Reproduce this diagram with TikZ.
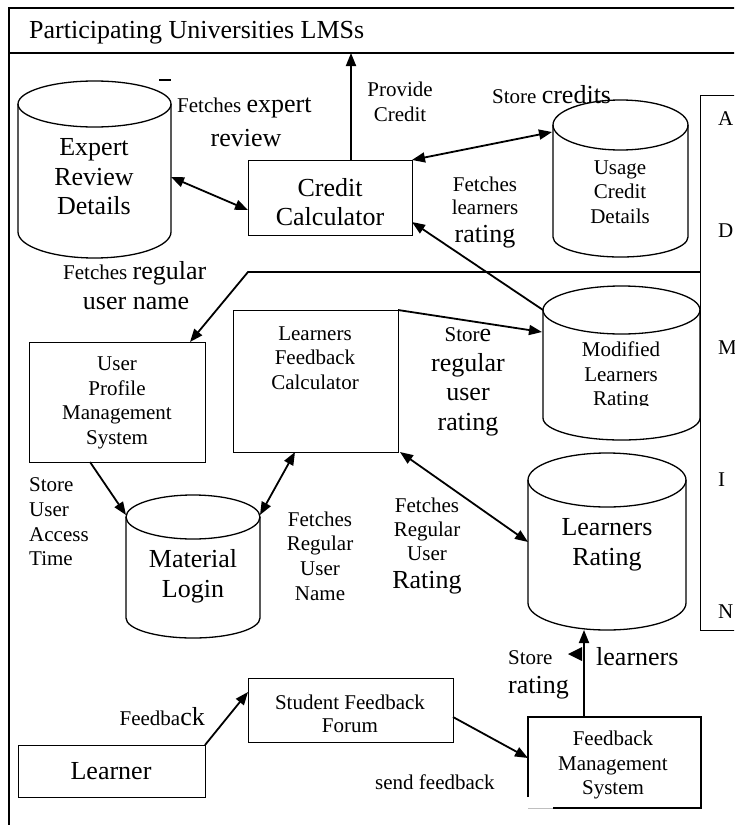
\documentclass[tikz,border=0pt]{standalone}
\usepackage{fontspec}
\setmainfont{Liberation Serif}
\usetikzlibrary{arrows.meta}
\newcommand\fsm{\fontsize{21}{24.6}\selectfont}
\newcommand\flg{\fontsize{26}{29.6}\selectfont}
% cylinder: name, xl, xr, y top centre, ry top, y bottom centre, ry bottom
\newcommand\dbcyl[7]{%
  \draw[shp] ({(#2+#3)/2},#4) ellipse [x radius={(#3-#2)/2}, y radius=#5];
  \draw[shp] (#2,#4) -- (#2,#6) arc[start angle=180, end angle=0, x radius={(#3-#2)/2}, y radius=#7] -- (#3,#4);
  \node[inner sep=0pt, minimum width={(#3-#2)*1pt}, minimum height={(#6+#7-#4+#5)*1pt}, anchor=north west] (#1) at (#2,#4-#5) {};
}
\begin{document}
\begin{tikzpicture}[x=1pt,y=-1pt,
  shp/.style={line width=1.3pt},
  box/.style={draw, line width=1.3pt, rectangle, inner sep=0pt, anchor=north west},
  arr/.style={line width=1.8pt, -{Triangle[length=13pt,width=10pt]}},
  biarr/.style={line width=1.8pt, {Triangle[length=13pt,width=10pt]}-{Triangle[length=13pt,width=10pt]}},
  txt/.style={inner sep=0pt, align=center, font=\fsm},
  big/.style={inner sep=0pt, align=center, font=\flg}]
\useasboundingbox (0,0) rectangle (734,825);
\fill[white] (0,0) rectangle (734,825);
\clip (0,0) rectangle (734,825);

% outer frame and title
\node[box, line width=1.5pt, minimum width=760pt, minimum height=840pt] (frame) at (8,7) {};
\draw[line width=1.5pt] (8,53) -- (770,53);
\node[inner sep=0pt, anchor=west, font=\flg] (title) at (29,33) {Participating Universities LMSs};

% right box
\node[box, minimum width=80pt, minimum height=535pt] (rb) at (700,95) {};
\node[txt, anchor=west] (la) at (718,119) {A};
\node[txt, anchor=west] (ld) at (718,231) {D};
\node[txt, anchor=west] (lm) at (718,348) {M};
\node[txt, anchor=west] (li) at (718,480) {I};
\node[txt, anchor=west] (ln) at (718,612) {N};

% cylinders
\dbcyl{exp}{18}{171}{104}{23}{232}{26}
\draw[shp] (159,80) -- (171,80);
\node[big] (expt) at (94,177) {Expert\\Review\\Details};

\dbcyl{usage}{553}{688}{125}{25}{237}{20}
\node[txt] (usaget) at (620,192) {Usage\\Credit\\Details};

\dbcyl{mod}{543}{700}{310}{24}{418}{22}
\begin{scope}
  \clip (545,336) rectangle (698,405);
  \node[txt] (modt) at (621,376) {Modified\\Learners\\Rating};
\end{scope}

\dbcyl{lr}{528}{686}{480}{27}{603}{27}
\node[big] (lrt) at (607,545) {Learners\\Rating};

\dbcyl{ml}{126}{260}{517}{22}{618}{20}
\node[big] (mlt) at (193,576) {Material\\Login};

% boxes
\node[box, minimum width=164pt, minimum height=75pt] (cc) at (248,160) {};
\node[big] (cct) at (330,202) {Credit\\Calculator};

\node[box, minimum width=176pt, minimum height=120pt] (up) at (29,342) {};
\node[txt] (upt) at (117,403) {User\\Profile\\Management\\System};

\node[box, minimum width=165pt, minimum height=142pt] (lfc) at (233,310) {};
\node[txt] (lfct) at (315,358) {Learners\\Feedback\\Calculator};

\node[box, minimum width=205pt, minimum height=64pt] (sff) at (248,678) {};
\begin{scope}
  \clip (250,680) rectangle (451,732);
  \node[txt, font=\fontsize{21}{23.5}\selectfont] (sfft) at (350,714) {Student Feedback\\Forum};
\end{scope}

\node[inner sep=0pt, minimum width=173pt, minimum height=91pt, anchor=north west] (fms) at (528,717) {};
\draw[shp] (528,797) -- (528,717) -- (701,717) -- (701,808) -- (553,808);
\draw[black!25, line width=1pt] (528,808) -- (553,808);
\node[txt] (fmst) at (613,765) {Feedback\\Management\\System};

\node[box, minimum width=187pt, minimum height=52pt] (ln) at (18,745) {};
\node[big] (lnt) at (111,771) {Learner};

% attachment points
\coordinate (ccN) at (351,160);   \coordinate (divA) at (351,53);
\coordinate (expE) at (171,177);  \coordinate (ccW) at (248,210);
\coordinate (ccNE) at (412,160);  \coordinate (usW) at (552,132);
\coordinate (modNW) at (543,310); \coordinate (ccE) at (412,222);
\coordinate (rbL) at (700,272);   \coordinate (bend) at (248,272); \coordinate (upN) at (190,342);
\coordinate (lfcNE) at (398,310); \coordinate (modW) at (542,332);
\coordinate (upS) at (90,462);    \coordinate (mlW) at (126,515);
\coordinate (lfcS) at (295,452);  \coordinate (mlE) at (260,515);
\coordinate (lfcSE) at (400,452); \coordinate (lrW) at (528,542);
\coordinate (lnNE) at (205,745);  \coordinate (sffW) at (248,692);
\coordinate (sffE) at (453,717);  \coordinate (fmsW) at (528,758);
\coordinate (fmsN) at (584,717);  \coordinate (lrS) at (584,630);

% connectors
\draw[arr] (ccN) -- (divA);
\draw[biarr] (expE) -- (ccW);
\draw[biarr] (ccNE) -- (usW);
\draw[arr] (modNW) -- (ccE);
\draw[arr] (rbL) -- (bend) -- (upN);
\draw[arr] (lfcNE) -- (modW);
\draw[arr] (upS) -- (mlW);
\draw[biarr] (lfcS) -- (mlE);
\draw[biarr] (lfcSE) -- (lrW);
\draw[arr] (lnNE) -- (sffW);
\draw[arr] (sffE) -- (fmsW);
\draw[arr] (fmsN) -- (lrS);
\fill (582,647) -- (568,654) -- (582,661) -- cycle;

% labels
\node[txt] (l1) at (400,102) {Provide\\Credit};
\node[inner sep=0pt, anchor=base west] (l2) at (492,103) {\fsm Store {\flg credits}};
\node[inner sep=0pt, anchor=west] (l3) at (177,108) {\fsm Fetches {\flg expert}};
\node[big] (l3b) at (246,138) {review};
\node[txt, font=\fontsize{21}{22.5}\selectfont] (l4) at (485,196) {Fetches\\learners};
\node[big] (l4b) at (485,237) {rating};
\node[inner sep=0pt, anchor=west] (l5) at (63,273) {\fsm Fetches {\flg regular}};
\node[big] (l5b) at (136,303) {user name};
\node[big] (l6) at (468,382) {{\fsm Stor}e\\regular\\user\\rating};
\node[txt, align=left, anchor=west] (l7) at (29,522) {Store\\User\\Access\\Time};
\node[txt] (l8) at (320,556) {Fetches\\Regular\\User\\Name};
\node[txt, font=\fontsize{21}{24}\selectfont] (l9) at (427,529) {Fetches\\Regular\\User};
\node[big] (l9b) at (427,583) {Rating};
\node[txt, anchor=west] (l10) at (508,658) {Store};
\node[big, anchor=west] (l10b) at (508,688) {rating};
\node[big, anchor=west] (l10c) at (596,657) {learners};
\node[inner sep=0pt, anchor=east] (l11) at (205,717) {\fsm Feedba{\flg ck}};
\node[txt, anchor=west] (l12) at (375,782) {send feedback};
\end{tikzpicture}
\end{document}
